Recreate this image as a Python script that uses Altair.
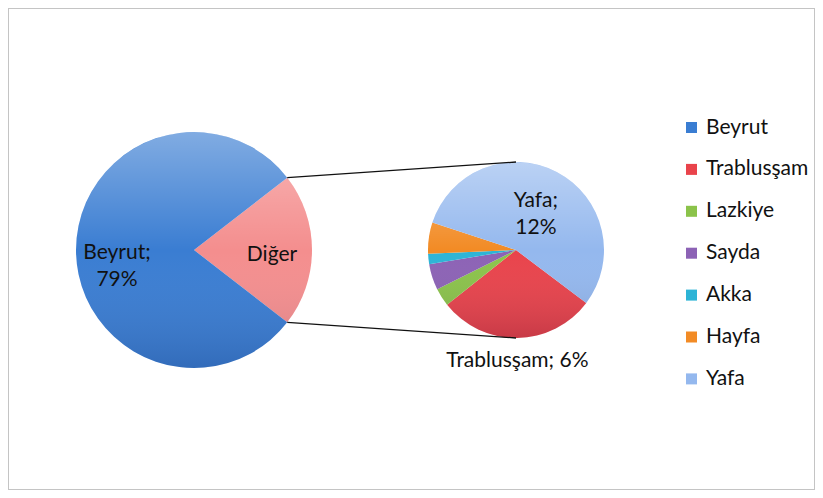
import math
import altair as alt
import pandas as pd

# ---- data (share of total, %) ----
main_cities = ["Diğer", "Beyrut"]
main_values = [21.0, 79.0]
sub_cities = ["Trablusşam", "Lazkiye", "Sayda", "Akka", "Hayfa", "Yafa"]
sub_values = [6.1, 0.7, 1.0, 0.4, 1.2, 11.6]
legend_order = ["Beyrut", "Trablusşam", "Lazkiye", "Sayda", "Akka", "Hayfa", "Yafa"]
color_domain = legend_order + ["Diğer"]
color_range = ["#3a7dd2", "#e9434b", "#8bc34a", "#8c62b5", "#2db4d6", "#f28b25", "#94b8ee", "#f48e8e"]

# ---- layout ----
W, H = 807, 482
CX1, CY1, R1 = 186, 242, 118
CX2, CY2, R2 = 508, 242, 88
FONT = "Lato"
FS = 21
TXT = "#111111"

total1 = sum(main_values)
total2 = sum(sub_values)
other_share = main_values[main_cities.index("Diğer")] / total1
start1 = math.pi / 2 - other_share * math.pi       # Diğer centred on the right
start2 = math.radians(127)                          # Trablusşam start

df1 = pd.DataFrame({
    "city": main_cities,
    "value": main_values,
    "ord": list(range(len(main_cities))),
})
df1["lab_b"] = [f"{c};\n{round(v)}%" if c == "Beyrut" else "" for c, v in zip(df1.city, df1.value)]
df1["lab_d"] = [c if c == "Diğer" else "" for c in df1.city]

df2 = pd.DataFrame({
    "city": sub_cities,
    "value": sub_values,
    "ord": list(range(len(sub_cities))),
})
df2["lab_y"] = [f"{c};\n{round(v)}%" if c == "Yafa" else "" for c, v in zip(df2.city, df2.value)]
df2["lab_t"] = [f"{c}; {round(v)}%" if c == "Trablusşam" else "" for c, v in zip(df2.city, df2.value)]

color_scale = alt.Scale(domain=color_domain, range=color_range)
legend = alt.Legend(
    title=None, values=legend_order, orient="none", legendX=673, legendY=109,
    symbolType="square", symbolSize=121, symbolStrokeWidth=0,
    labelFont=FONT, labelFontSize=FS, labelColor=TXT, labelOffset=4,
    rowPadding=19.9, padding=0,
)

th1 = alt.Theta("value:Q", stack=True, scale=alt.Scale(domain=[0, total1], range=[start1, start1 + 2 * math.pi]))
th2 = alt.Theta("value:Q", stack=True, scale=alt.Scale(domain=[0, total2], range=[start2, start2 + 2 * math.pi]))

shade = {
    "gradient": "linear", "x1": 0, "y1": 0, "x2": 0, "y2": 1,
    "stops": [
        {"offset": 0, "color": "rgba(255,255,255,0.36)"},
        {"offset": 0.5, "color": "rgba(255,255,255,0)"},
        {"offset": 1, "color": "rgba(0,0,40,0.14)"},
    ],
}
one = pd.DataFrame({"k": [0]})


def pie(df, th, cx, cy, r):
    arc = alt.Chart(df).mark_arc(radius=r).encode(
        x=alt.value(cx), y=alt.value(cy), theta=th,
        color=alt.Color("city:N", scale=color_scale, legend=legend),
        order=alt.Order("ord:Q"),
    )
    over = alt.Chart(one).mark_arc(radius=r, theta=0, theta2=2 * math.pi, fill=shade).encode(
        x=alt.value(cx), y=alt.value(cy)
    )
    return arc, over


def label(df, th, cx, cy, field, radius, dy):
    return alt.Chart(df).mark_text(
        radius=radius, dy=dy, font=FONT, fontSize=FS, color=TXT, lineBreak="\n",
        lineHeight=27, align="center", baseline="middle",
    ).encode(
        x=alt.value(cx), y=alt.value(cy), theta=th,
        text=alt.Text(f"{field}:N"), detail="city:N", order=alt.Order("ord:Q"),
    )


arc1, over1 = pie(df1, th1, CX1, CY1, R1)
arc2, over2 = pie(df2, th2, CX2, CY2, R2)

# connector lines from the edges of the "Diğer" slice to the secondary pie
a_top = start1
a_bot = start1 + other_share * 2 * math.pi
conn = pd.DataFrame({
    "x": [CX1 + R1 * math.sin(a_top), CX1 + R1 * math.sin(a_bot)],
    "y": [CY1 - R1 * math.cos(a_top), CY1 - R1 * math.cos(a_bot)],
    "x2": [CX2, CX2],
    "y2": [CY2 - R2, CY2 + R2],
})
rules = alt.Chart(conn).mark_rule(color="#111111", strokeWidth=1.3).encode(
    x=alt.X("x:Q", scale=None, axis=None), y=alt.Y("y:Q", scale=None, axis=None),
    x2="x2:Q", y2="y2:Q",
)

chart = alt.layer(
    arc1, over1, arc2, over2, rules,
    label(df1, th1, CX1, CY1, "lab_b", 77, 3),
    label(df1, th1, CX1, CY1, "lab_d", 78, 5),
    label(df2, th2, CX2, CY2, "lab_y", 43, -11),
    label(df2, th2, CX2, CY2, "lab_t", 111, 0),
).resolve_scale(theta="independent").properties(
    width=W, height=H, autosize=alt.AutoSizeParams(type="none"), padding=0,
).configure_view(stroke="#c4c4c4", strokeWidth=2).configure_legend(symbolType="square")

chart.save("out.html", embed_options={"renderer": "svg", "actions": False})
